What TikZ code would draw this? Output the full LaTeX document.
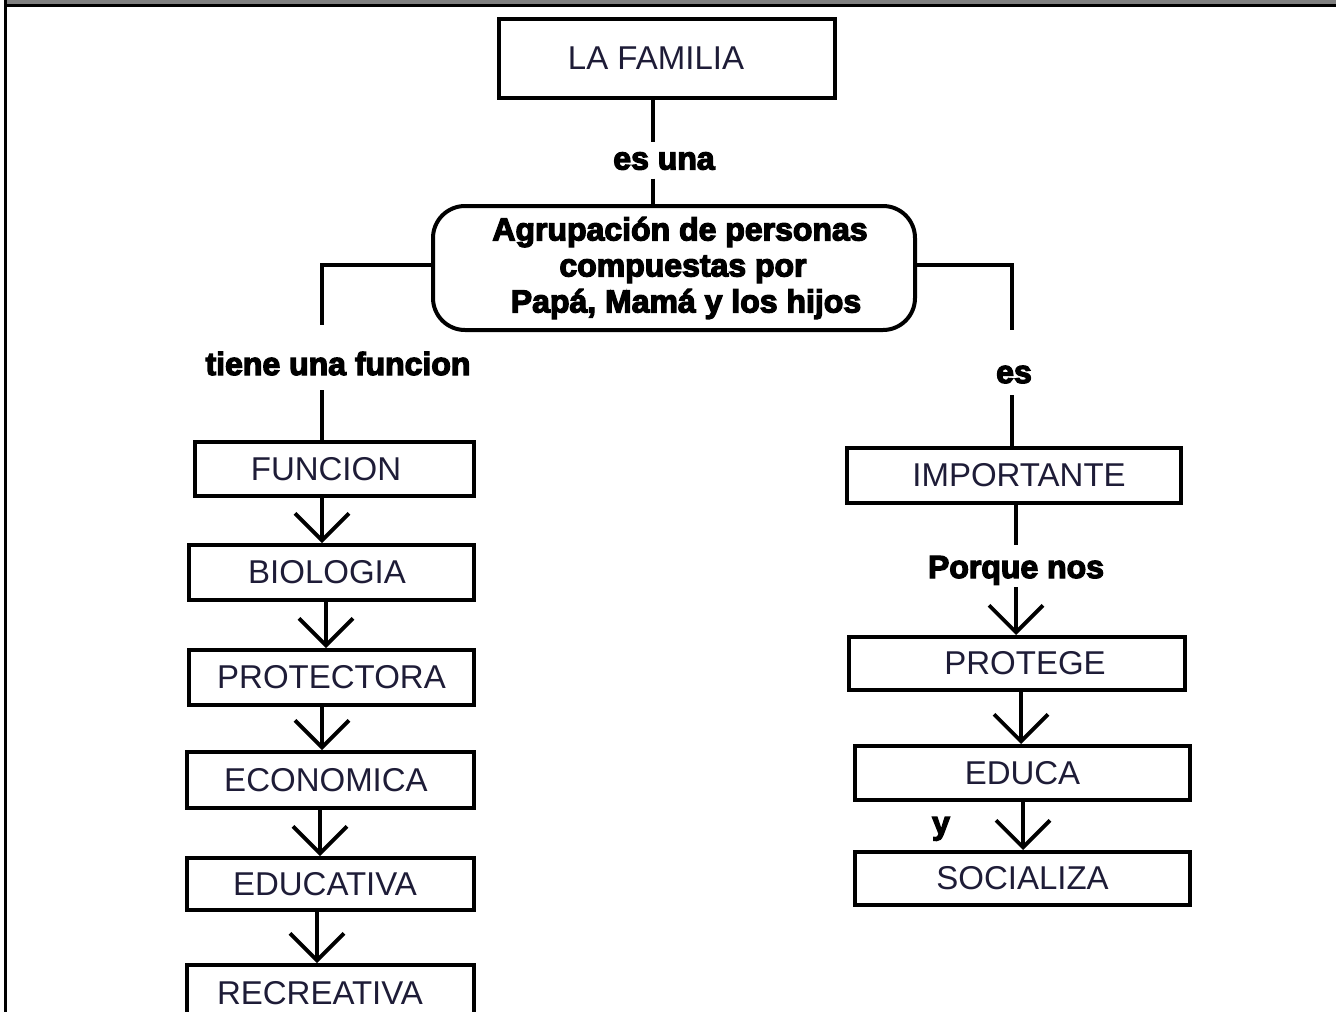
\documentclass[tikz,border=0pt]{standalone}
\usepackage{fontspec}
\setmainfont{Liberation Sans}
\newfontfamily\heavy{Liberation Sans Bold}[FakeBold=4]
\usetikzlibrary{arrows.meta,calc}
\definecolor{boxtext}{RGB}{30,28,55}
\begin{document}
\begin{tikzpicture}[x=1pt,y=-1pt,
  box/.style={draw, line width=4pt, inner sep=0pt, text=boxtext,
    font=\fontsize{33}{38}\selectfont},
  lbl/.style={inner xsep=2pt, inner ysep=3pt, text height=24pt, text depth=6pt,
    font=\fontsize{32}{36}\heavy},
  conn/.style={line width=3.5pt},
  arr/.style={line width=3.8pt, -{Straight Barb[length=27pt,width=54pt]}}
]
\useasboundingbox (0,0) rectangle (1339,1012);
% frame
\fill[gray] (7,0) rectangle (1336,4.5);
\draw[line width=3pt] (4,5.5) -- (1336,5.5);
\draw[line width=3pt] (5.5,0) -- (5.5,1012);

% column coordinates
\coordinate (colT) at (653,0);
\coordinate (colL) at (322,0);
\coordinate (colR) at (1012,0);
\coordinate (colR1) at (1016,0);
\coordinate (colR2) at (1021,0);

% top
\node[box, minimum width=336, minimum height=79] (fam) at (667,58.5) {\hspace*{-22pt}LA FAMILIA};
\node[lbl] (esuna) at (664,160.5) {es una};
\node[box, rounded corners=32pt, minimum width=482, minimum height=124, align=center,
  font=\fontsize{32}{36}\heavy, text=black] (agr) at (674,268)
  {\hspace*{12pt}Agrupación de personas\\\hspace*{18pt}compuestas por\\\hspace*{24pt}Papá, Mamá y los hijos};

% labels
\node[lbl] (tiene) at (338,366) {tiene una funcion};
\node[lbl] (es) at (1014,374) {es};
\node[lbl] (porque) at (1016,569) {Porque nos};
\node[lbl] (y) at (941,825) {y};

% left column
\node[box, minimum width=279, minimum height=54] (func) at (334.5,469) {\hspace*{-17pt}FUNCION};
\node[box, minimum width=285, minimum height=55] (bio) at (331.5,572.5) {\hspace*{-9pt}BIOLOGIA};
\node[box, minimum width=285, minimum height=55] (prot) at (331.5,677.5) {PROTECTORA};
\node[box, minimum width=287, minimum height=56] (eco) at (330.5,780) {\hspace*{-9pt}ECONOMICA};
\node[box, minimum width=287, minimum height=52] (edu) at (330.5,884) {\hspace*{-11pt}EDUCATIVA};
\node[box, minimum width=287, minimum height=56] (rec) at (330.5,993) {\hspace*{-21pt}RECREATIVA};

% right column
\node[box, minimum width=334, minimum height=55] (imp) at (1014,475.5) {\hspace*{10pt}IMPORTANTE};
\node[box, minimum width=336, minimum height=53] (pge) at (1017,663.5) {\hspace*{16pt}PROTEGE};
\node[box, minimum width=335, minimum height=54] (educa) at (1022.5,773) {EDUCA};
\node[box, minimum width=335, minimum height=53] (soc) at (1022.5,878.5) {SOCIALIZA};

% connectors top
\draw[conn] (fam.south -| colT) -- (esuna.north -| colT);
\draw[conn] (esuna.south -| colT) -- (agr.north -| colT);
\draw[conn, shorten >=23pt] ([yshift=3pt]agr.west) -| (tiene.north -| colL);
\draw[conn, shorten <=6pt] (tiene.south -| colL) -- (func.north -| colL);
\draw[conn, shorten >=26pt] ([yshift=3pt]agr.east) -| (es.north -| colR);
\draw[conn, shorten <=3pt] (es.south -| colR) -- (imp.north -| colR);

% left chain
\draw[arr] (func.south -| colL) -- (bio.north -| colL);
\draw[arr] ([xshift=4pt]bio.south -| colL) -- ([xshift=4pt]prot.north -| colL);
\draw[arr] (prot.south -| colL) -- (eco.north -| colL);
\draw[arr] ([xshift=-2pt]eco.south -| colL) -- ([xshift=-2pt]edu.north -| colL);
\draw[arr] ([xshift=-5pt]edu.south -| colL) -- ([xshift=-5pt]rec.north -| colL);

% right chain
\draw[conn, shorten >=6pt] (imp.south -| colR1) -- (porque.north -| colR1);
\draw[arr] (porque.south -| colR1) -- (pge.north -| colR1);
\draw[arr] (pge.south -| colR2) -- (educa.north -| colR2);
\draw[arr] ([xshift=2pt]educa.south -| colR2) -- ([xshift=2pt]soc.north -| colR2);
\end{tikzpicture}
\end{document}
